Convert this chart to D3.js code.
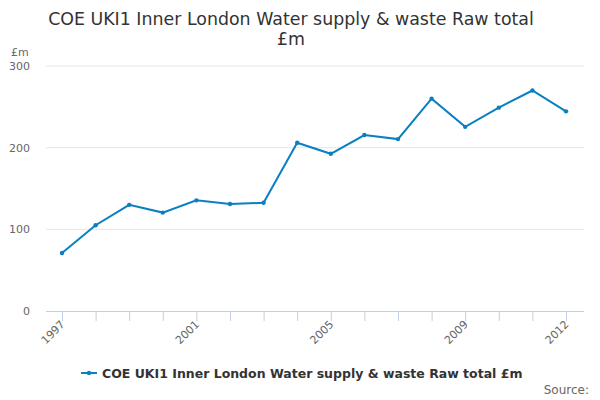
<!DOCTYPE html>
<html>
<head>
<meta charset="utf-8">
<script src="https://cdn.jsdelivr.net/npm/d3@7"></script>
<style>
  body { margin: 0; background: #fff; }
  text { font-family: "DejaVu Sans", sans-serif; }
</style>
</head>
<body>
<div id="chart"></div>
<script>
// chart data
var years = [1997, 1998, 1999, 2000, 2001, 2002, 2003, 2004, 2005, 2006, 2007, 2008, 2009, 2010, 2011, 2012];
var values = [71, 105, 130, 120.5, 135.5, 131, 132.5, 206, 192.5, 215.5, 210.5, 260, 225.5, 249, 270, 244.5];
var yTicks = [0, 100, 200, 300];
var xLabels = [1997, 2001, 2005, 2009, 2012];
var titleLines = ["COE UKI1 Inner London Water supply & waste Raw total", "£m"];
var seriesName = "COE UKI1 Inner London Water supply & waste Raw total £m";

function init() {
    var w = 600;
    var h = 400;
    var left = 46, right = 584, top = 66, bottom = 311;

    var svg = d3.select("#chart")
            .append("svg")
            .attr("width", w)
            .attr("height", h);

    var x = d3.scaleLinear()
            .domain([1997, 2012])
            .range([62, 566]);

    var y = d3.scaleLinear()
            .domain([0, 300])
            .range([bottom, top]);

    // title
    svg.selectAll(".title")
        .data(titleLines)
        .enter()
        .append("text")
        .attr("class", "title")
        .attr("x", 291)
        .attr("y", function(d, i) { return 25 + i * 20; })
        .attr("text-anchor", "middle")
        .style("font-size", "17.4px")
        .style("fill", "#333")
        .text(function(d) { return d; });

    // gridlines
    svg.selectAll(".grid")
        .data(yTicks.filter(function(d) { return d > 0; }))
        .enter()
        .append("line")
        .attr("x1", left)
        .attr("x2", right)
        .attr("y1", function(d) { return y(d); })
        .attr("y2", function(d) { return y(d); })
        .style("stroke", "#e6e6e6")
        .style("stroke-width", 1);

    // y labels
    svg.selectAll(".ylab")
        .data(yTicks)
        .enter()
        .append("text")
        .attr("x", 30)
        .attr("y", function(d) { return y(d) + 4; })
        .attr("text-anchor", "end")
        .style("font-size", "11px")
        .style("fill", "#666")
        .text(function(d) { return d; });

    svg.append("text")
        .attr("x", 11)
        .attr("y", 56)
        .style("font-size", "11px")
        .style("fill", "#666")
        .text("£m");

    // x axis
    var xAxis = d3.axisBottom(x)
            .tickValues(years)
            .tickSize(10)
            .tickFormat(function(d) { return xLabels.indexOf(d) >= 0 ? d : ""; });

    var gx = svg.append("g")
            .attr("transform", "translate(0," + bottom + ")")
            .call(xAxis);
    gx.select(".domain").attr("d", "M" + left + ",0.5H" + right).style("stroke", "#c0d0e0");
    gx.selectAll(".tick line").style("stroke", "#c0d0e0");
    gx.selectAll(".tick text")
        .style("font-size", "11px")
        .style("fill", "#666")
        .style("font-family", "DejaVu Sans, sans-serif")
        .attr("text-anchor", "end")
        .attr("dy", null)
        .attr("transform", "translate(3,14) rotate(-45)")
        .attr("y", 0);

    // line
    var line = d3.line()
            .x(function(d, i) { return x(years[i]); })
            .y(function(d) { return y(d); });

    svg.append("path")
        .datum(values)
        .attr("d", line)
        .style("fill", "none")
        .style("stroke", "#0a7fc1")
        .style("stroke-width", 2);

    svg.selectAll(".pt")
        .data(values)
        .enter()
        .append("circle")
        .attr("cx", function(d, i) { return x(years[i]); })
        .attr("cy", function(d) { return y(d); })
        .attr("r", 2.2)
        .style("fill", "#0a7fc1");

    // legend
    svg.append("line")
        .attr("x1", 81).attr("x2", 97)
        .attr("y1", 373).attr("y2", 373)
        .style("stroke", "#0a7fc1")
        .style("stroke-width", 2);
    svg.append("circle")
        .attr("cx", 89).attr("cy", 373).attr("r", 2.2)
        .style("fill", "#0a7fc1");
    svg.append("text")
        .attr("x", 102)
        .attr("y", 378)
        .style("font-size", "12.5px")
        .style("font-weight", "bold")
        .style("fill", "#333")
        .text(seriesName);

    svg.append("text")
        .attr("x", 589)
        .attr("y", 394)
        .attr("text-anchor", "end")
        .style("font-size", "12px")
        .style("fill", "#666")
        .text("Source:");
}

window.onload = init;
</script>
</body>
</html>
